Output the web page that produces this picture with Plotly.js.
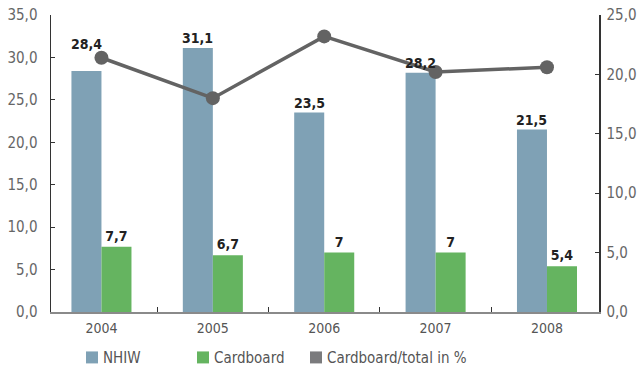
<!DOCTYPE html>
<html>
<head>
<meta charset="utf-8">
<script src="https://cdn.plot.ly/plotly-3.0.1.min.js"></script>
<style>html,body{margin:0;padding:0;background:#fff;}#chart{width:637px;height:370px;}</style>
</head>
<body>
<div id="chart"></div>
<script>
var years = ['2004', '2005', '2006', '2007', '2008'];
var nhiw = [28.4, 31.1, 23.5, 28.2, 21.5];
var cardboard = [7.7, 6.7, 7, 7, 5.4];
var sharePct = [21.4, 18.0, 23.2, 20.2, 20.6];
var seriesNames = ['NHIW', 'Cardboard', 'Cardboard/total in %'];
var seriesColors = ['#7fa1b5', '#65b460', '#7b7b7d'];

var FONT = '"DejaVu Sans Condensed", "Liberation Sans Narrow", "DejaVu Sans", sans-serif';
function fmt(v) { return String(v).replace('.', ','); }

var M = {l: 51, r: 38, t: 15, b: 57.5};
var W = 637, H = 370;
var PW = W - M.l - M.r, PH = H - M.t - M.b;
function px(x) { return (x - M.l) / PW; }
function py(y) { return (H - M.b - y) / PH; }

var traces = [
  {
    type: 'bar', name: seriesNames[0], x: years, y: nhiw,
    marker: {color: seriesColors[0]}, hoverinfo: 'skip'
  },
  {
    type: 'bar', name: seriesNames[1], x: years, y: cardboard,
    text: cardboard.map(fmt), textposition: 'outside', cliponaxis: false,
    textfont: {family: FONT, size: 14, color: '#222', weight: 'bold'},
    marker: {color: seriesColors[1]}, hoverinfo: 'skip'
  },
  {
    type: 'scatter', mode: 'lines+markers', name: seriesNames[2],
    x: years, y: sharePct, yaxis: 'y2', cliponaxis: false,
    line: {color: '#636363', width: 3.5},
    marker: {color: '#636363', size: 14}, hoverinfo: 'skip'
  }
];

var annotations = [];
nhiw.forEach(function (v, i) {
  annotations.push({
    x: i, y: v, xref: 'x', yref: 'y', xanchor: 'center', yanchor: 'bottom',
    xshift: -15, yshift: i === 0 ? 17 : 0, showarrow: false, text: fmt(v),
    font: {family: FONT, size: 14, color: '#222', weight: 'bold'}
  });
});

var shapes = [];
var legendSquareX = [86, 197, 310];
seriesNames.forEach(function (name, i) {
  shapes.push({
    type: 'rect', xref: 'paper', yref: 'paper', layer: 'above',
    x0: px(legendSquareX[i]), x1: px(legendSquareX[i] + 12),
    y0: py(364), y1: py(352),
    fillcolor: seriesColors[i], line: {width: 0}
  });
  annotations.push({
    xref: 'paper', yref: 'paper', x: px(legendSquareX[i] + 15), y: py(358.5),
    xanchor: 'left', yanchor: 'middle', showarrow: false, text: name,
    font: {family: FONT, size: 15, color: '#555'}
  });
});

var layout = {
  width: W, height: H,
  margin: {l: M.l, r: M.r, t: M.t, b: M.b, autoexpand: false},
  paper_bgcolor: '#fff', plot_bgcolor: '#fff',
  separators: ',.',
  font: {family: FONT, size: 14, color: '#555'},
  barmode: 'group', bargap: 0.461, bargroupgap: 0,
  showlegend: false,
  xaxis: {
    type: 'category', range: [-0.453, 4.467],
    showline: true, linecolor: '#8a8a8a', linewidth: 2,
    ticks: 'inside', tickson: 'boundaries', ticklen: 5, tickcolor: '#333', tickwidth: 1,
    ticklabelstandoff: 2,
    tickfont: {family: FONT, size: 14, color: '#555'},
    showgrid: false, zeroline: false
  },
  yaxis: {
    range: [0, 35], dtick: 5, tickformat: '.1f',
    showline: true, linecolor: '#333', linewidth: 1.5,
    ticks: 'inside', ticklen: 4, tickcolor: '#333',
    ticklabelstandoff: 9,
    tickfont: {family: FONT, size: 15, color: '#666'},
    showgrid: false, zeroline: false
  },
  yaxis2: {
    overlaying: 'y', side: 'right', range: [0, 25], dtick: 5, tickformat: '.1f',
    showline: true, linecolor: '#333', linewidth: 1.5,
    ticks: 'inside', ticklen: 4, tickcolor: '#333',
    ticklabelstandoff: 3,
    tickfont: {family: FONT, size: 15, color: '#666'},
    showgrid: false, zeroline: false
  },
  shapes: shapes,
  annotations: annotations
};

Plotly.newPlot('chart', traces, layout, {displayModeBar: false, staticPlot: true});
</script>
</body>
</html>
